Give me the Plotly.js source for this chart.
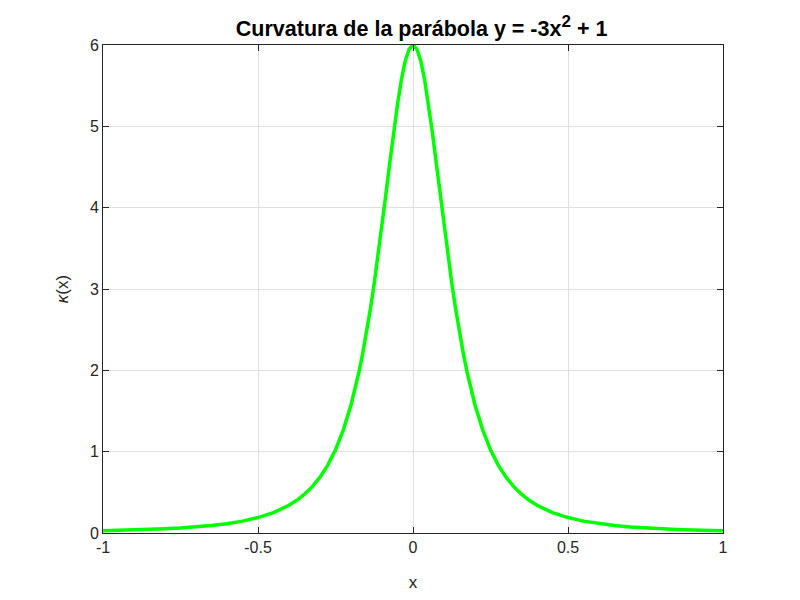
<!DOCTYPE html>
<html>
<head>
<meta charset="utf-8">
<script src="https://cdn.plot.ly/plotly-3.0.1.min.js"></script>
<style>html,body{margin:0;padding:0;background:#fff;}#chart{width:800px;height:600px;}</style>
</head>
<body>
<div id="chart"></div>
<script>
const xValues = [-1, -0.95, -0.9, -0.85, -0.8, -0.75, -0.7, -0.65, -0.6, -0.55, -0.5, -0.45, -0.4, -0.375, -0.35, -0.325, -0.3, -0.275, -0.25, -0.225,
  -0.2, -0.1875, -0.175, -0.1625, -0.15, -0.1375, -0.125, -0.1125, -0.1, -0.0875, -0.075, -0.0625, -0.05, -0.0375, -0.025, -0.0125, 0,
  0.0125, 0.025, 0.0375, 0.05, 0.0625, 0.075, 0.0875, 0.1, 0.1125, 0.125, 0.1375, 0.15, 0.1625, 0.175, 0.1875, 0.2,
  0.225, 0.25, 0.275, 0.3, 0.325, 0.35, 0.375, 0.4, 0.45, 0.5, 0.55, 0.6, 0.65, 0.7, 0.75, 0.8, 0.85, 0.9, 0.95, 1];
const kappaValues = [0.027, 0.031, 0.036, 0.043, 0.051, 0.061, 0.075, 0.092, 0.115, 0.146, 0.190, 0.251, 0.341, 0.402, 0.477, 0.570, 0.687, 0.835, 1.024, 1.265,
  1.574, 1.759, 1.968, 2.202, 2.464, 2.754, 3.072, 3.416, 3.783, 4.165, 4.550, 4.925, 5.272, 5.572, 5.803, 5.950, 6.0,
  5.950, 5.803, 5.572, 5.272, 4.925, 4.550, 4.165, 3.783, 3.416, 3.072, 2.754, 2.464, 2.202, 1.968, 1.759, 1.574,
  1.265, 1.024, 0.835, 0.687, 0.570, 0.477, 0.402, 0.341, 0.251, 0.190, 0.146, 0.115, 0.092, 0.075, 0.061, 0.051, 0.043, 0.036, 0.031, 0.027];
const xTicks = [-1, -0.5, 0, 0.5, 1];
const xTickLabels = ['-1', '-0.5', '0', '0.5', '1'];
const yTicks = [0, 1, 2, 3, 4, 5, 6];

const axisColor = '#262626';
const fam = 'Liberation Sans, Arial, sans-serif';
const font = {family: fam, size: 16, color: axisColor};

Plotly.newPlot('chart', [{
  x: xValues, y: kappaValues, type: 'scatter', mode: 'lines',
  line: {color: '#00ff00', width: 3.5}, hoverinfo: 'skip'
}], {
  width: 800, height: 600,
  margin: {l: 103, r: 77, t: 45, b: 67},
  paper_bgcolor: '#fff', plot_bgcolor: '#fff',
  showlegend: false,
  font: font,
  title: {text: '<b>Curvatura de la parábola y = -3x<sup><span style="font-size:17px">2</span></sup> + 1</b>', font: {family: fam, size: 21.5, color: '#000'}, x: 0.527, xanchor: 'center', y: 0.952, yanchor: 'middle'},
  xaxis: {
    range: [-1, 1], tickvals: xTicks, ticktext: xTickLabels,
    showline: true, mirror: 'ticks', linecolor: axisColor, linewidth: 1,
    ticks: 'inside', ticklen: 6, tickcolor: axisColor,
    showgrid: true, gridcolor: '#dfdfdf', gridwidth: 1, zeroline: false,
    tickfont: font,
    title: {text: 'x', font: {family: fam, size: 17, color: axisColor}, standoff: 20}
  },
  yaxis: {
    range: [0, 6], tickvals: yTicks,
    showline: true, mirror: 'ticks', linecolor: axisColor, linewidth: 1,
    ticks: 'inside', ticklen: 6, tickcolor: axisColor,
    showgrid: true, gridcolor: '#dfdfdf', gridwidth: 1, zeroline: false,
    tickfont: font,
    title: {text: '<i>κ</i>(x)', font: {family: fam, size: 17, color: axisColor}, standoff: 16}
  }
}, {staticPlot: true, displayModeBar: false});
</script>
</body>
</html>
